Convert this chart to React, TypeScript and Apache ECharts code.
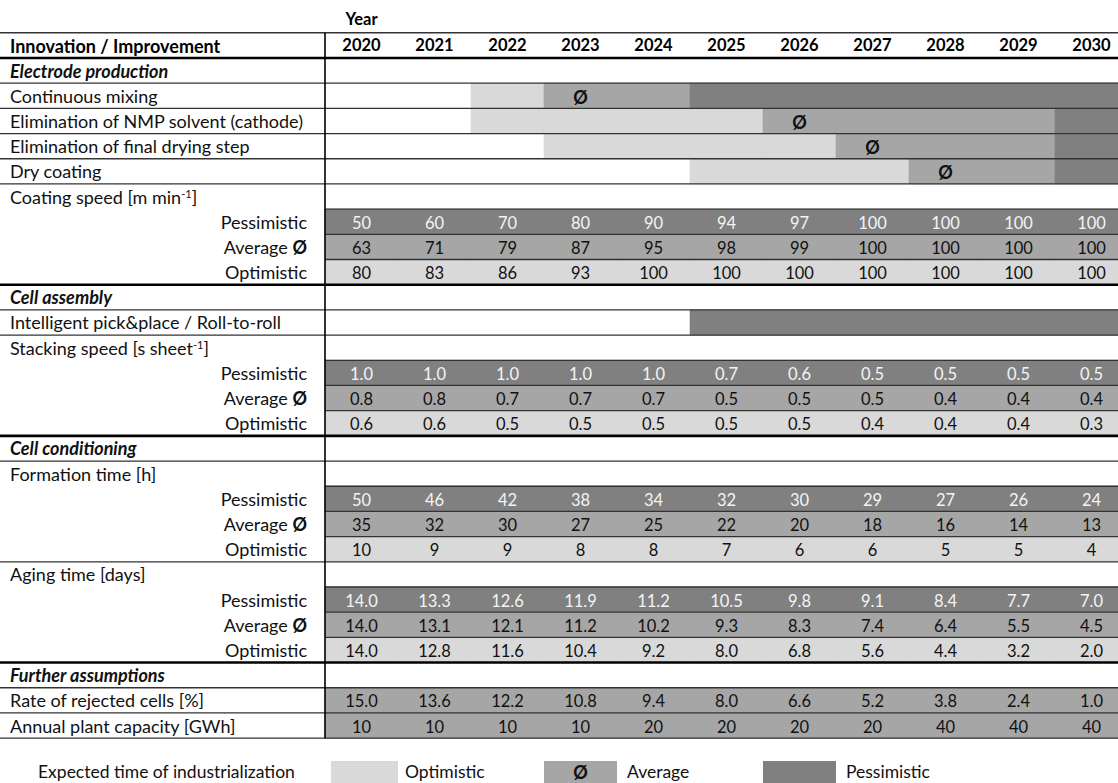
import React, { useEffect, useRef } from 'react';
import * as echarts from 'echarts';

// ---------- data ----------
const years = ['2020', '2021', '2022', '2023', '2024', '2025', '2026', '2027', '2028', '2029', '2030'];

const rowLabels = [
  'Electrode production',
  'Continuous mixing',
  'Elimination of NMP solvent (cathode)',
  'Elimination of final drying step',
  'Dry coating',
  'Coating speed [m min^-1]',
  'Pessimistic', 'Average Ø', 'Optimistic',
  'Cell assembly',
  'Intelligent pick&place / Roll-to-roll',
  'Stacking speed [s sheet^-1]',
  'Pessimistic', 'Average Ø', 'Optimistic',
  'Cell conditioning',
  'Formation time [h]',
  'Pessimistic', 'Average Ø', 'Optimistic',
  'Aging time [days]',
  'Pessimistic', 'Average Ø', 'Optimistic',
  'Further assumptions',
  'Rate of rejected cells [%]',
  'Annual plant capacity [GWh]',
];
const sectionRows = [0, 9, 15, 24];

// expected time of industrialization (start years)
const innovationRows = [1, 2, 3, 4, 10];
const optimisticStart = [2022, 2022, 2023, 2025, 2025];
const averageStart = [2023, 2026, 2027, 2028, 2025];
const pessimisticStart = [2025, 2030, 2030, 2030, 2025];

const coatingPessimistic = [50, 60, 70, 80, 90, 94, 97, 100, 100, 100, 100];
const coatingAverage = [63, 71, 79, 87, 95, 98, 99, 100, 100, 100, 100];
const coatingOptimistic = [80, 83, 86, 93, 100, 100, 100, 100, 100, 100, 100];

const stackingPessimistic = [1.0, 1.0, 1.0, 1.0, 1.0, 0.7, 0.6, 0.5, 0.5, 0.5, 0.5];
const stackingAverage = [0.8, 0.8, 0.7, 0.7, 0.7, 0.5, 0.5, 0.5, 0.4, 0.4, 0.4];
const stackingOptimistic = [0.6, 0.6, 0.5, 0.5, 0.5, 0.5, 0.5, 0.4, 0.4, 0.4, 0.3];

const formationPessimistic = [50, 46, 42, 38, 34, 32, 30, 29, 27, 26, 24];
const formationAverage = [35, 32, 30, 27, 25, 22, 20, 18, 16, 14, 13];
const formationOptimistic = [10, 9, 9, 8, 8, 7, 6, 6, 5, 5, 4];

const agingPessimistic = [14.0, 13.3, 12.6, 11.9, 11.2, 10.5, 9.8, 9.1, 8.4, 7.7, 7.0];
const agingAverage = [14.0, 13.1, 12.1, 11.2, 10.2, 9.3, 8.3, 7.4, 6.4, 5.5, 4.5];
const agingOptimistic = [14.0, 12.8, 11.6, 10.4, 9.2, 8.0, 6.8, 5.6, 4.4, 3.2, 2.0];

const rejectedRate = [15.0, 13.6, 12.2, 10.8, 9.4, 8.0, 6.6, 5.2, 3.8, 2.4, 1.0];
const plantCapacity = [10, 10, 10, 10, 20, 20, 20, 20, 40, 40, 40];

const legendLabels = ['Expected time of industrialization', 'Optimistic', 'Average', 'Pessimistic'];

// ---------- styles ----------
const FONT = 'Lato';
const FS = 18;      // row labels
const FS_NUM = 16.5; // cell values / years
const LIGHT = '#d9d9d9';
const MID = '#a6a6a6';
const DARK = '#808080';
const INK = '#111111';
const PALE = '#f4f4f4';

const GRID_LEFT = 325;
const COL_W = 73;
const GRID_TOP = 58;
const ROW_H = 25.19;
const NROWS = rowLabels.length;

type Cell = { fill: string; text: string; color: string; bold?: boolean };

function buildCells() {
  const pos: number[][] = [];
  const meta: Cell[] = [];
  const push = (x: number, y: number, c: Cell) => { pos.push([x, y]); meta.push(c); };

  innovationRows.forEach((row, k) => {
    years.forEach((ys, xi) => {
      const yr = Number(ys);
      let fill = '';
      if (yr >= pessimisticStart[k]) fill = DARK;
      else if (yr >= averageStart[k]) fill = MID;
      else if (yr >= optimisticStart[k]) fill = LIGHT;
      if (!fill) return;
      const mark = yr === averageStart[k] && averageStart[k] < pessimisticStart[k];
      push(xi, row, { fill, text: mark ? 'Ø' : '', color: INK, bold: true });
    });
  });

  const scen = (row: number, vals: number[], kind: 'p' | 'a' | 'o', dec: number) => {
    vals.forEach((v, xi) => {
      push(xi, row, {
        fill: kind === 'p' ? DARK : kind === 'a' ? MID : LIGHT,
        text: v.toFixed(dec),
        color: kind === 'p' ? PALE : INK,
      });
    });
  };
  scen(6, coatingPessimistic, 'p', 0);
  scen(7, coatingAverage, 'a', 0);
  scen(8, coatingOptimistic, 'o', 0);
  scen(12, stackingPessimistic, 'p', 1);
  scen(13, stackingAverage, 'a', 1);
  scen(14, stackingOptimistic, 'o', 1);
  scen(17, formationPessimistic, 'p', 0);
  scen(18, formationAverage, 'a', 0);
  scen(19, formationOptimistic, 'o', 0);
  scen(21, agingPessimistic, 'p', 1);
  scen(22, agingAverage, 'a', 1);
  scen(23, agingOptimistic, 'o', 1);
  scen(25, rejectedRate, 'a', 1);
  scen(26, plantCapacity, 'a', 0);
  return { pos, meta };
}

type Rule = { edge: number; kind: 'thin' | 'thick' | 'data' | 'top' | 'vert' };
function buildRules(): Rule[] {
  const subRows = new Set([6, 7, 8, 12, 13, 14, 17, 18, 19, 21, 22, 23]);
  const rules: Rule[] = [{ edge: 0, kind: 'top' }];
  for (let e = 0; e <= NROWS; e++) {
    if (e === 0 || sectionRows.includes(e)) rules.push({ edge: e, kind: 'thick' });
    else if (subRows.has(e)) rules.push({ edge: e, kind: 'data' });
    else rules.push({ edge: e, kind: 'thin' });
  }
  rules.push({ edge: 0, kind: 'vert' });
  return rules;
}

function labelFormatter(_v: string, idx: number) {
  const label = rowLabels[idx];
  if (sectionRows.includes(idx)) return `{sec|${label}}`;
  if (label === 'Pessimistic' || label === 'Optimistic') return `{r|${label}}`;
  if (label === 'Average Ø') return `{r|Average }{rb|Ø}`;
  if (label.includes('^')) {
    const m = label.match(/^(.*)\^(-1)(.*)$/);
    if (m) return `{n|${m[1]}}{sup|${m[2]}}{n|${m[3]}}`;
  }
  return `{n|${label}}`;
}

export default function App() {
  const ref = useRef<HTMLDivElement>(null);

  useEffect(() => {
    if (!ref.current) return;
    document.body.style.margin = '0';
    const chart = echarts.init(ref.current, undefined, { renderer: 'svg' });
    const { pos, meta } = buildCells();
    const rules = buildRules();

    const txt = (text: string, x: number, y: number, extra: any = {}) => ({
      type: 'text',
      x, y,
      silent: true,
      style: {
        text,
        fill: INK,
        fontFamily: FONT,
        fontSize: FS,
        textAlign: 'left', align: 'left',
        textVerticalAlign: 'middle', verticalAlign: 'middle',
        ...extra,
      },
    });

    const legendY = 761;
    const legendH = 22;
    const legendMid = legendY + legendH / 2 - 1;
    const colX = (i: number) => GRID_LEFT + COL_W * i;

    const option: any = {
      animation: false,
      grid: { left: GRID_LEFT, top: GRID_TOP, width: COL_W * years.length, height: ROW_H * NROWS },
      xAxis: {
        type: 'category',
        data: years,
        position: 'top',
        axisLine: { show: false },
        axisTick: { show: false },
        splitLine: { show: false },
        axisLabel: { interval: 0, fontFamily: FONT, fontSize: FS_NUM, fontWeight: 'bold', color: '#000', margin: 5 },
      },
      yAxis: {
        type: 'category',
        data: rowLabels.map((_, i) => String(i)),
        inverse: true,
        axisLine: { show: false },
        axisTick: { show: false },
        splitLine: { show: false },
        axisLabel: {
          interval: 0,
          align: 'left',
          margin: GRID_LEFT - 10,
          width: 297,
          fontFamily: FONT,
          fontSize: FS,
          color: INK,
          formatter: labelFormatter,
          rich: {
            n: { fontFamily: FONT, fontSize: FS, color: INK, align: 'left' },
            sec: { fontFamily: FONT, fontSize: FS, color: INK, fontWeight: 'bold', fontStyle: 'italic', align: 'left' },
            sup: { fontFamily: FONT, fontSize: 11, color: INK, verticalAlign: 'top', align: 'left', lineHeight: 11 },
            r: { fontFamily: FONT, fontSize: FS, color: INK, align: 'right' },
            rb: { fontFamily: FONT, fontSize: FS, color: INK, fontWeight: 'bold', align: 'right' },
          },
        },
      },
      series: [
        {
          type: 'custom',
          name: 'cells',
          coordinateSystem: 'cartesian2d',
          data: pos,
          z: 2,
          renderItem: (params: any, api: any) => {
            const c = api.coord([api.value(0), api.value(1)]);
            const s = api.size([1, 1]);
            const m = meta[params.dataIndex];
            const children: any[] = [
              {
                type: 'rect',
                shape: { x: c[0] - s[0] / 2, y: c[1] - s[1] / 2, width: s[0], height: s[1] },
                style: { fill: m.fill, stroke: m.fill, lineWidth: 0.6 },
              },
            ];
            if (m.text) {
              children.push({
                type: 'text',
                x: c[0], y: c[1] + 1,
                style: {
                  text: m.text, fill: m.color, fontFamily: FONT, fontSize: m.bold ? FS : FS_NUM,
                  fontWeight: m.bold ? 'bold' : 'normal',
                  textAlign: 'center', align: 'center', textVerticalAlign: 'middle', verticalAlign: 'middle',
                },
              });
            }
            return { type: 'group', children };
          },
        },
        {
          type: 'custom',
          name: 'rules',
          coordinateSystem: 'cartesian2d',
          data: rules.map((r) => [0, Math.min(r.edge, NROWS - 1)]),
          z: 5,
          silent: true,
          renderItem: (params: any, api: any) => {
            const cs = params.coordSys;
            const r = rules[params.dataIndex];
            const c = api.coord([0, Math.min(r.edge, NROWS - 1)]);
            const h = api.size([0, 1])[1];
            const right = cs.x + cs.width;
            if (r.kind === 'vert') {
              return {
                type: 'line',
                shape: { x1: cs.x, y1: cs.y - h, x2: cs.x, y2: cs.y + cs.height },
                style: { stroke: '#000', lineWidth: 1.6 },
              };
            }
            const yEdge = r.edge >= NROWS ? c[1] + h / 2 : c[1] - h / 2;
            if (r.kind === 'top') {
              return { type: 'line', shape: { x1: 0, y1: yEdge - h, x2: right, y2: yEdge - h }, style: { stroke: '#333', lineWidth: 1.4 } };
            }
            const x1 = r.kind === 'data' ? cs.x : 0;
            const thick = r.kind === 'thick';
            return {
              type: 'line',
              shape: { x1, y1: yEdge, x2: right, y2: yEdge },
              style: { stroke: thick ? '#000' : '#333', lineWidth: thick ? 2.6 : 1.3 },
            };
          },
        },
      ],
      graphic: [
        txt('Year', colX(0) + COL_W / 2, 19, { fontWeight: 'bold', fontSize: FS_NUM, textAlign: 'center', align: 'center', fill: '#000' }),
        txt('Innovation / Improvement', 10, 46, { fontWeight: 'bold', fill: '#000' }),
        txt(legendLabels[0], 38, legendMid, { fontSize: 17.5 }),
        { type: 'rect', silent: true, shape: { x: colX(0) + 6, y: legendY, width: COL_W - 6, height: legendH }, style: { fill: LIGHT } },
        txt(legendLabels[1], colX(1) + 7, legendMid, { fontSize: 17.5 }),
        { type: 'rect', silent: true, shape: { x: colX(3), y: legendY, width: COL_W, height: legendH }, style: { fill: MID } },
        txt('Ø', colX(3) + COL_W / 2, legendMid + 1, { fontWeight: 'bold', textAlign: 'center', align: 'center' }),
        txt(legendLabels[2], colX(4) + 10, legendMid, { fontSize: 17.5 }),
        { type: 'rect', silent: true, shape: { x: colX(6), y: legendY, width: COL_W, height: legendH }, style: { fill: DARK } },
        txt(legendLabels[3], colX(7) + 10, legendMid, { fontSize: 17.5 }),
      ],
    };
    chart.setOption(option);
    return () => chart.dispose();
  }, []);

  return (
    <div style={{ position: 'fixed', left: 0, top: 0, width: 1118, height: 783, overflow: 'hidden', background: '#fff' }}>
      <div ref={ref} style={{ width: 1128, height: 783 }} />
    </div>
  );
}
